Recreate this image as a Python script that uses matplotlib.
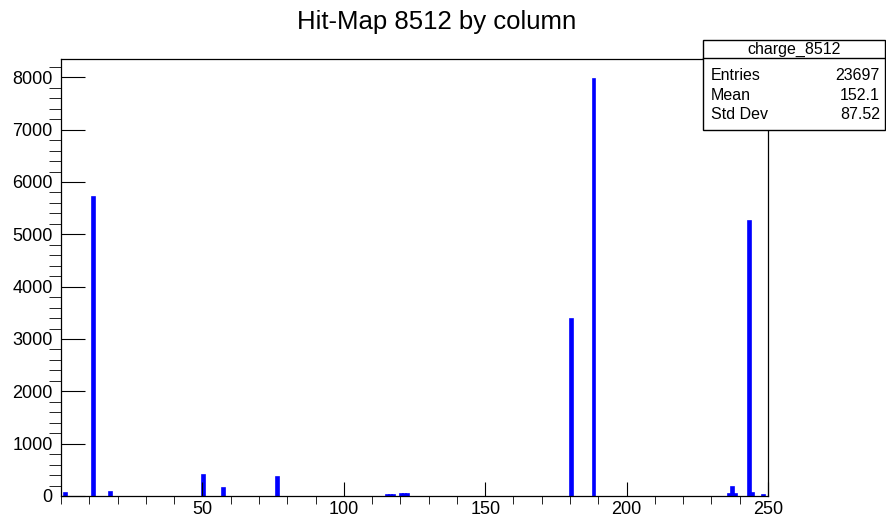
import numpy as np
import matplotlib
matplotlib.use('Agg')
from matplotlib import pyplot as plt
from matplotlib.patches import Rectangle
from matplotlib.ticker import MultipleLocator

plt.rcParams['font.family'] = ['Liberation Sans', 'DejaVu Sans']

# 直方图数据: 列号(bin 左边界) 与 计数
bins = [1, 11, 17, 50, 57, 76, 115, 116, 117, 120, 121, 122,
        180, 188, 236, 237, 238, 243, 244, 248]
counts = [50, 5710, 80, 400, 145, 370, 25, 25, 25, 30, 30, 30,
          3375, 7960, 40, 175, 40, 5260, 60, 25]

hist_title = 'Hit-Map 8512 by column'
stats_name = 'charge_8512'
stats_rows = ['Entries', 'Mean', 'Std Dev']
stats_vals = ['23697', '152.1', '87.52']

W, H = 887, 518
fig = plt.figure(figsize=(W / 100, H / 100), dpi=100)
ax = fig.add_axes([61 / W, 22 / H, 707 / W, 437 / H])

ax.bar(bins, counts, width=1, align='edge', color='#0000ff',
       edgecolor='#0000ff', linewidth=1.2)

ax.set_xlim(0, 250)
ax.set_ylim(0, 8350)

ax.xaxis.set_major_locator(MultipleLocator(50))
ax.xaxis.set_minor_locator(MultipleLocator(10))
ax.yaxis.set_major_locator(MultipleLocator(1000))
ax.yaxis.set_minor_locator(MultipleLocator(200))
ax.set_xticks([50, 100, 150, 200, 250])

ax.tick_params(axis='both', direction='in', labelsize=13, width=0.8, color='black')
ax.tick_params(axis='x', which='major', length=10, pad=3.5)
ax.tick_params(axis='x', which='minor', length=5.5)
ax.tick_params(axis='y', which='major', length=17, pad=6)
ax.tick_params(axis='y', which='minor', length=9)
for s in ax.spines.values():
    s.set_linewidth(0.9)

fig.text(437 / W, 1 - 22 / H, hist_title, ha='center', va='center', fontsize=18.5)

# 统计框
bx0, bx1, by0, by1 = 703, 885, 40, 130
fig.add_artist(Rectangle((bx0 / W, 1 - by1 / H), (bx1 - bx0) / W, (by1 - by0) / H,
                         transform=fig.transFigure, facecolor='white',
                         edgecolor='black', linewidth=1, zorder=5))
fig.add_artist(plt.Line2D([bx0 / W, bx1 / W], [1 - 57.5 / H, 1 - 57.5 / H],
                          transform=fig.transFigure, color='black', linewidth=1, zorder=6))
fig.text((bx0 + bx1) / 2 / W, 1 - 49 / H, stats_name, ha='center', va='center',
         fontsize=11.5, zorder=7)
for i, (name, val) in enumerate(zip(stats_rows, stats_vals)):
    yy = 1 - (75.5 + i * 19.5) / H
    fig.text(711 / W, yy, name, ha='left', va='center', fontsize=11.5, zorder=7)
    fig.text(880 / W, yy, val, ha='right', va='center', fontsize=11.5, zorder=7)

fig.savefig('out.png', dpi=100)
